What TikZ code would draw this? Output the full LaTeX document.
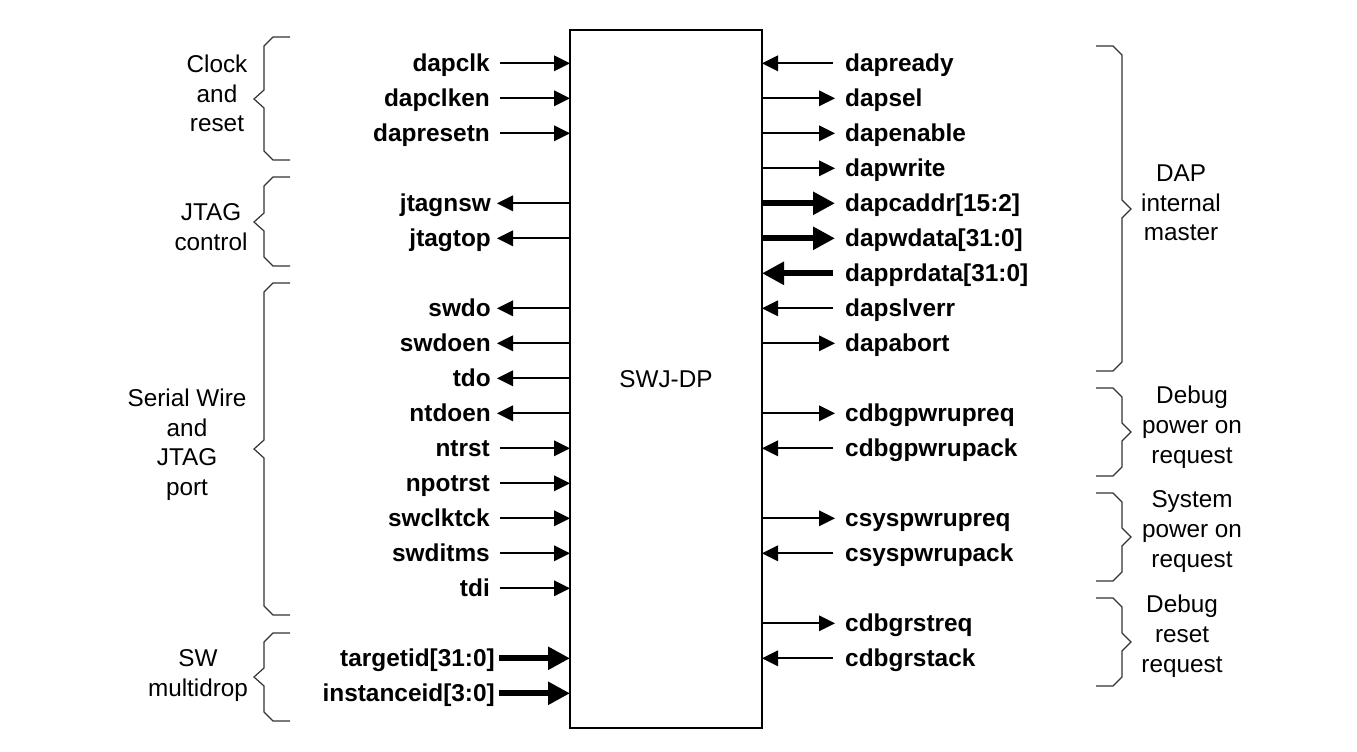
\documentclass[tikz,border=0pt]{standalone}
\usepackage{fontspec}
\setmainfont{Liberation Sans}
\usetikzlibrary{arrows.meta}
\newcommand\sigLin[3]{\node[lsig] (#1) at (490,#2) {#3};
  \draw[sigthin] ([xshift=10pt]#1.east) -- (#1 -| box.west);}
\newcommand\sigLout[3]{\node[lsig] (#1) at (491,#2) {#3};
  \draw[sigthin] (#1 -| box.west) -- ([xshift=6pt]#1.east);}
\newcommand\sigLinB[3]{\node[lsig] (#1) at (495,#2) {#3};
  \draw[sigthick] ([xshift=4pt]#1.east) -- (#1 -| box.west);}
\newcommand\sigRin[3]{\node[rsig] (#1) at (845,#2) {#3};
  \draw[sigthin] ([xshift=-12pt]#1.west) -- (#1 -| box.east);}
\newcommand\sigRout[3]{\node[rsig] (#1) at (845,#2) {#3};
  \draw[sigthin] (#1 -| box.east) -- ([xshift=-10pt]#1.west);}
\newcommand\sigRinB[3]{\node[rsig] (#1) at (845,#2) {#3};
  \draw[sigthick] ([xshift=-12pt]#1.west) -- (#1 -| box.east);}
\newcommand\sigRoutB[3]{\node[rsig] (#1) at (845,#2) {#3};
  \draw[sigthick] (#1 -| box.east) -- ([xshift=-10pt]#1.west);}
\newcommand\grpBraceL[3]{\draw[brc] (290,#1) -- (273,#1) -- (264,#1+9) -- (264,#3-9) -- (254,#3) -- (264,#3+9) -- (264,#2-9) -- (273,#2) -- (290,#2);}
\newcommand\grpBraceR[3]{\draw[brc] (1096,#1) -- (1113,#1) -- (1122,#1+9) -- (1122,#3-9) -- (1131,#3) -- (1122,#3+9) -- (1122,#2-9) -- (1113,#2) -- (1096,#2);}
\begin{document}
\begin{tikzpicture}[x=1pt,y=-1pt,
  lsig/.style={anchor=east,inner sep=0pt,text height=16.6pt,text depth=0pt,font=\fontsize{24.4}{29}\selectfont\bfseries},
  rsig/.style={lsig,anchor=west},
  grp/.style={inner sep=0pt,align=center,anchor=base,font=\fontsize{24.3}{29.7}\selectfont},
  sigthin/.style={line width=1.8pt,-{Triangle[length=16pt,width=15.5pt]}},
  sigthick/.style={line width=5.8pt,-{Triangle[length=22pt,width=22pt]}},
  brc/.style={line width=1.2pt,black!80,line join=miter}]
\useasboundingbox (0,0) rectangle (1357,752);
\node[draw,line width=1.4pt,minimum width=192pt,minimum height=698pt,inner sep=0pt,outer sep=0pt,font=\fontsize{24.3}{29}\selectfont] (box) at (666,379) {SWJ-DP};
% left side
\sigLin{dapclk}{63.3}{dapclk}
\sigLin{dapclken}{98.3}{dapclken}
\sigLin{dapresetn}{133.3}{dapresetn}
\sigLout{jtagnsw}{203.3}{jtagnsw}
\sigLout{jtagtop}{238.3}{jtagtop}
\sigLout{swdo}{308.3}{swdo}
\sigLout{swdoen}{343.3}{swdoen}
\sigLout{tdo}{378.3}{tdo}
\sigLout{ntdoen}{413.3}{ntdoen}
\sigLin{ntrst}{448.3}{ntrst}
\sigLin{npotrst}{483.3}{npotrst}
\sigLin{swclktck}{518.3}{swclktck}
\sigLin{swditms}{553.3}{swditms}
\sigLin{tdi}{588.3}{tdi}
\sigLinB{targetid}{658.3}{targetid[31:0]}
\sigLinB{instanceid}{693.3}{instanceid[3:0]}
% right side
\sigRin{dapready}{63.3}{dapready}
\sigRout{dapsel}{98.3}{dapsel}
\sigRout{dapenable}{133.3}{dapenable}
\sigRout{dapwrite}{168.3}{dapwrite}
\sigRoutB{dapcaddr}{203.3}{dapcaddr[15:2]}
\sigRoutB{dapwdata}{238.3}{dapwdata[31:0]}
\sigRinB{dapprdata}{273.3}{dapprdata[31:0]}
\sigRin{dapslverr}{308.3}{dapslverr}
\sigRout{dapabort}{343.3}{dapabort}
\sigRout{cdbgpwrupreq}{413.3}{cdbgpwrupreq}
\sigRin{cdbgpwrupack}{448.3}{cdbgpwrupack}
\sigRout{csyspwrupreq}{518.3}{csyspwrupreq}
\sigRin{csyspwrupack}{553.3}{csyspwrupack}
\sigRout{cdbgrstreq}{623.3}{cdbgrstreq}
\sigRin{cdbgrstack}{658.3}{cdbgrstack}
% braces
\grpBraceL{37}{160}{99}
\grpBraceL{177}{266}{222}
\grpBraceL{283}{615}{449}
\grpBraceL{633}{721}{677}
\grpBraceR{46}{371}{209}
\grpBraceR{388}{476}{432}
\grpBraceR{493}{581}{537}
\grpBraceR{598}{686}{642}
% group labels (anchor=base is the last line's baseline)
\node[grp] (gclk) at (217,131.7) {Clock\\and\\reset};
\node[grp] (gjtag) at (211,250) {JTAG\\control};
\node[grp] (gsw) at (187,495.5) {Serial Wire\\and\\JTAG\\port};
\node[grp] (gmd) at (198,696) {SW\\multidrop};
\node[grp] (gdap) at (1181,240.7) {DAP\\internal\\master};
\node[grp] (gdpw) at (1192,463) {Debug\\power on\\request};
\node[grp] (gspw) at (1192,567) {System\\power on\\request};
\node[grp] (gdrst) at (1182,672) {Debug\\reset\\request};
\end{tikzpicture}
\end{document}
